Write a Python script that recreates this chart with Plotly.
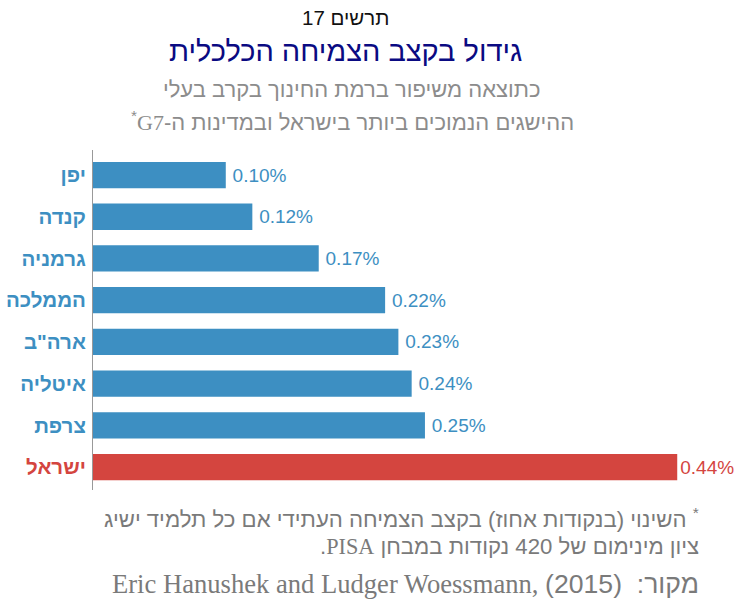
import plotly.graph_objects as go

countries = ["יפן", "קנדה", "גרמניה", "הממלכה", "ארה\"ב", "איטליה", "צרפת", "ישראל"]
values = [0.10, 0.12, 0.17, 0.22, 0.23, 0.24, 0.25, 0.44]
value_labels = ["0.10%", "0.12%", "0.17%", "0.22%", "0.23%", "0.24%", "0.25%", "0.44%"]
highlight = "ישראל"

BLUE = "#3d8fc2"
RED = "#d4453f"
colors = [RED if c == highlight else BLUE for c in countries]
templates = ["%{text}" if c == highlight else "\u2009%{text}" for c in countries]

W, H = 734, 600
L, R, T, B = 93, 1, 150, 110
PW, PH = W - L - R, H - T - B

def px_x(x):
    return (x - L) / PW

def px_y(y):
    return (H - B - y) / PH

RLE, PDF = "\u202b", "\u202c"
SANS = "Liberation Sans, Arial, sans-serif"
NARROW = "Liberation Sans Narrow, Arial Narrow, Liberation Sans, sans-serif"
SERIF = "Liberation Serif"

fig = go.Figure(go.Bar(
    y=list(range(len(countries))),
    x=values,
    orientation="h",
    marker=dict(color=colors, line=dict(width=0)),
    width=0.63,
    text=value_labels,
    texttemplate=templates,
    textposition="outside",
    textfont=dict(family=SANS, size=19, color=colors),
    cliponaxis=False,
    hoverinfo="skip",
))

ticktext = [f"<span style='color:{col}'><b>{c}</b></span>" for c, col in zip(countries, colors)]

fig.update_layout(
    width=W, height=H,
    margin=dict(l=L, r=R, t=T, b=B),
    paper_bgcolor="white", plot_bgcolor="white",
    showlegend=False,
    font=dict(family=SANS),
    xaxis=dict(range=[0, 0.482], visible=False, fixedrange=True),
    yaxis=dict(
        range=[7.55, -0.6],
        tickmode="array",
        tickvals=list(range(len(countries))),
        ticktext=ticktext,
        tickfont=dict(family=SANS, size=20.5),
        showline=True, linecolor="#999999", linewidth=1,
        showgrid=False, zeroline=False, ticks="", ticklabelstandoff=2,
        fixedrange=True,
    ),
)

annos = [
    dict(text=RLE + "תרשים 17" + PDF, x=px_x(345), y=px_y(17), size=20.5, color="#111111",
         family=SANS, xanchor="center"),
    dict(text=RLE + "גידול בקצב הצמיחה הכלכלית" + PDF, x=px_x(345), y=px_y(51), size=29, color="#0a0a82",
         family=SANS, xanchor="center"),
    dict(text=RLE + "כתוצאה משיפור ברמת החינוך בקרב בעלי" + PDF, x=px_x(351), y=px_y(89), size=22, color="#8c8c8c",
         family=SANS, xanchor="center"),
    dict(text=RLE + f"ההישגים הנמוכים ביותר בישראל ובמדינות ה-<span style='font-family:{SERIF}'>G7</span><sup>*</sup>" + PDF,
         x=px_x(352), y=px_y(121), size=22, color="#8c8c8c",
         family=SANS, xanchor="center"),
    dict(text=RLE + "<sup>*</sup> השינוי (בנקודות אחוז) בקצב הצמיחה העתידי אם כל תלמיד ישיג" + PDF,
         x=px_x(701), y=px_y(518), size=22.2, color="#7a7a7a",
         family=NARROW, xanchor="right"),
    dict(text=RLE + f"ציון מינימום של 420 נקודות במבחן <span style='font-family:{SERIF}'>PISA</span>." + PDF,
         x=px_x(701), y=px_y(546), size=22.2, color="#7a7a7a",
         family=NARROW, xanchor="right"),
    dict(text=RLE + f"מקור:  <span style='font-family:{SERIF}'>Eric Hanushek and Ludger Woessmann, </span>(2015)" + PDF,
         x=px_x(701), y=px_y(584), size=26.6, color="#7a7a7a",
         family=NARROW, xanchor="right"),
]
for a in annos:
    fig.add_annotation(
        text=a["text"], x=a["x"], y=a["y"], xref="paper", yref="paper",
        xanchor=a["xanchor"], yanchor="middle", showarrow=False,
        font=dict(size=a["size"], color=a["color"], family=a["family"]),
    )

fig.write_html("out.html", config={"displayModeBar": False},
               post_script="document.body.style.margin='0';")
